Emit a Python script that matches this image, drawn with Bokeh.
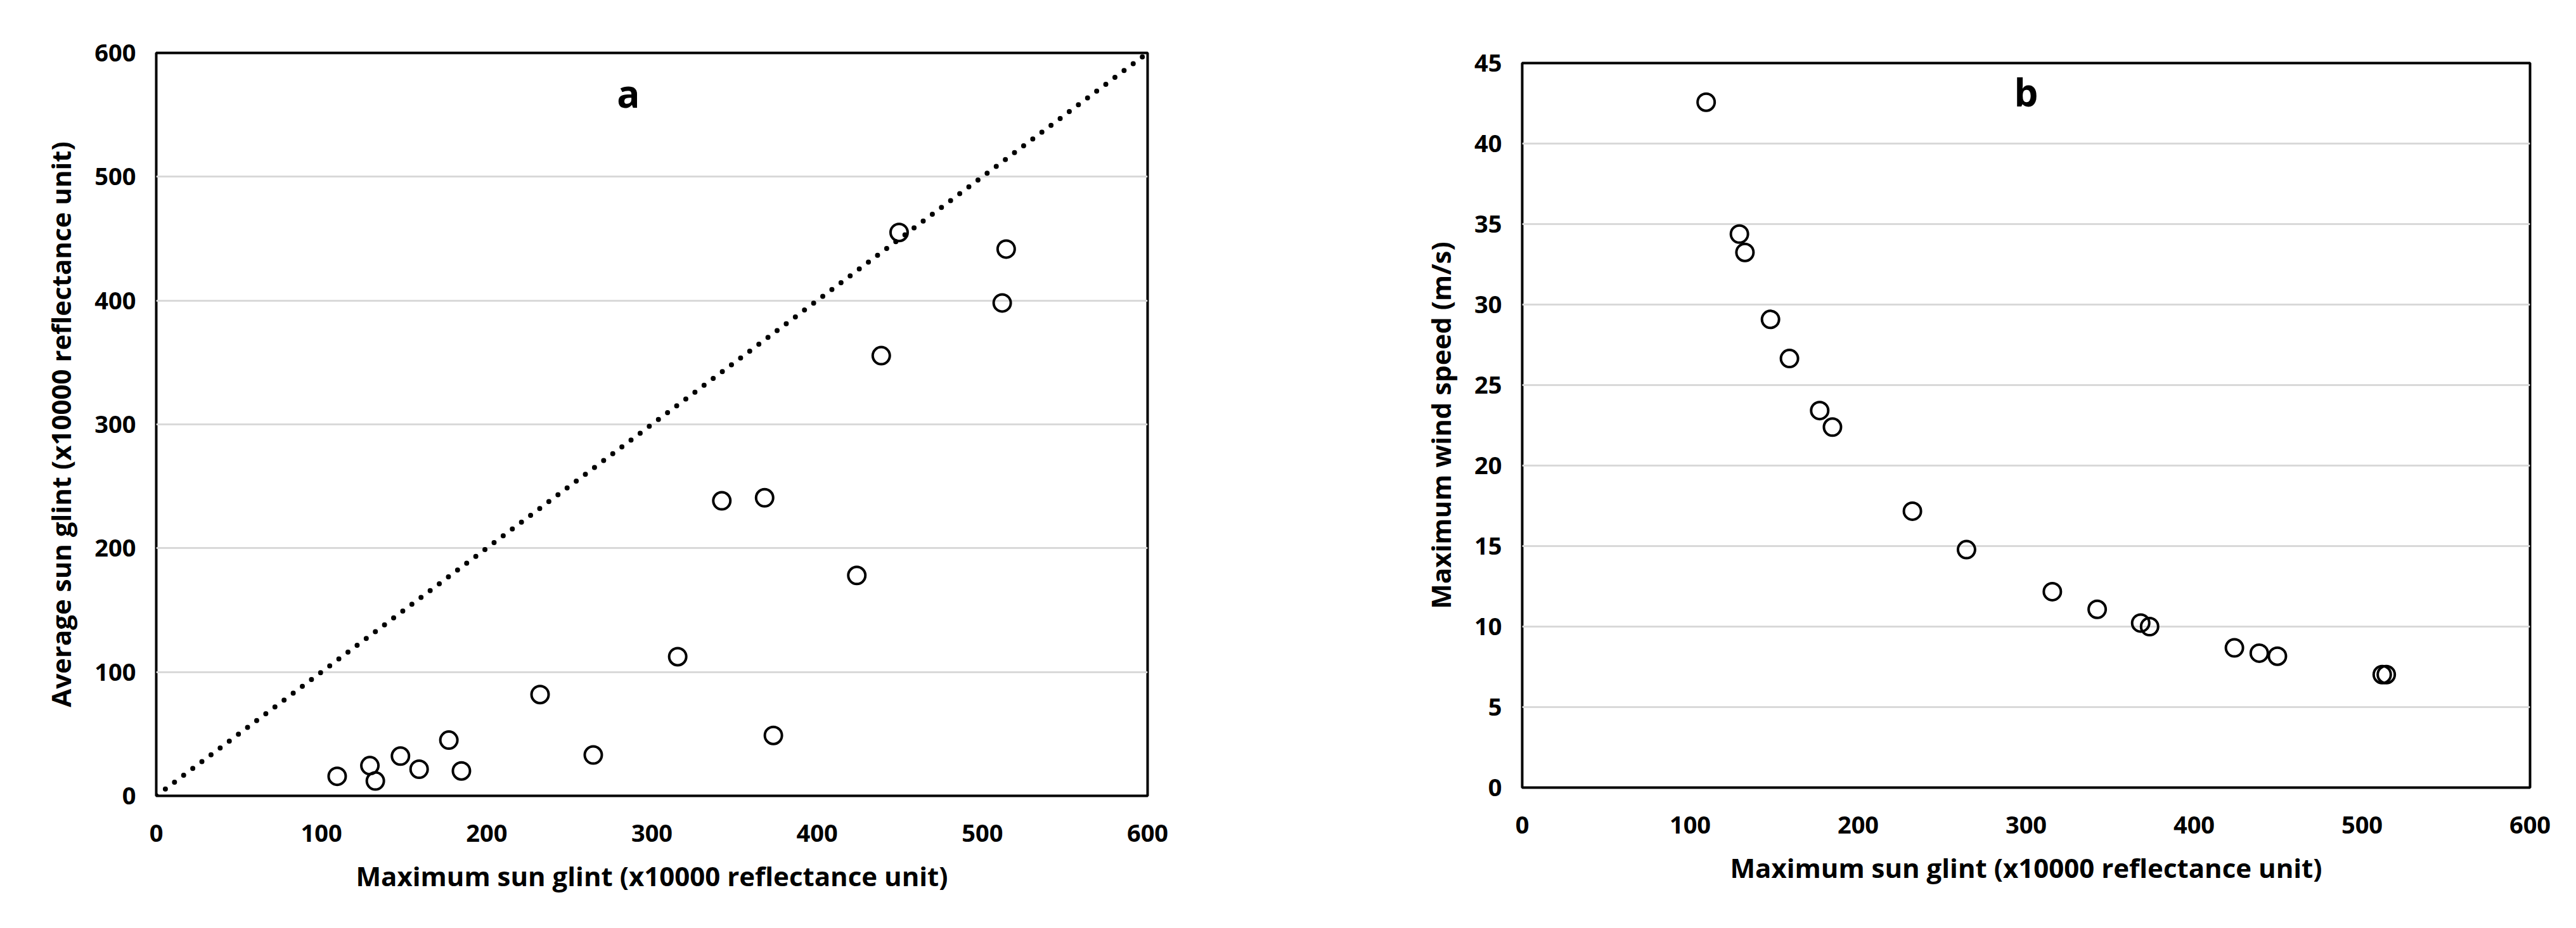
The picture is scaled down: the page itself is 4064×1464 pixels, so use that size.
from bokeh.plotting import figure
from bokeh.layouts import row, column
from bokeh.models import Range1d, SingleIntervalTicker, Label
from bokeh.embed import file_html
from bokeh.resources import INLINE

# ---- data ----
max_glint = [109.5, 129.3, 132.6, 147.8, 159.1, 177.1, 184.7, 232.3, 264.5,
             315.6, 342.3, 368.2, 373.5, 424.0, 438.8, 449.6, 512.0, 514.4]
avg_glint = [15.8, 24.4, 12.0, 32.1, 21.5, 45.0, 20.1, 81.8, 33.0,
             112.4, 238.3, 240.7, 48.8, 178.0, 355.5, 455.0, 398.1, 441.6]
max_wind = [42.57, 34.38, 33.24, 29.08, 26.65, 23.42, 22.39, 17.17, 14.78,
            12.17, 11.07, 10.22, 10.0, 8.68, 8.35, 8.16, 7.02, 7.02]
line_x = [0, 600]
line_y = [0, 600]

x_label = "Maximum sun glint (x10000 reflectance unit)"
ya_label = "Average sun glint (x10000 reflectance unit)"
yb_label = "Maximum wind speed (m/s)"

FONT = "Open Sans"
TICK_SIZE = "38px"
TITLE_SIZE = "42px"
PANEL_SIZE = "60px"


def style(p, xstep, ystep):
    p.outline_line_color = "black"
    p.outline_line_width = 4
    p.background_fill_color = "white"
    p.border_fill_color = "white"
    p.xgrid.visible = False
    p.ygrid.grid_line_color = "#d9d9d9"
    p.ygrid.grid_line_width = 3
    p.xaxis.ticker = SingleIntervalTicker(interval=xstep)
    p.yaxis.ticker = SingleIntervalTicker(interval=ystep)
    p.ygrid.ticker = SingleIntervalTicker(interval=ystep)
    for ax in (p.xaxis[0], p.yaxis[0]):
        ax.axis_line_color = None
        ax.major_tick_line_color = None
        ax.minor_tick_line_color = None
        ax.major_tick_in = 0
        ax.major_tick_out = 0
        ax.minor_tick_in = 0
        ax.minor_tick_out = 0
        ax.major_label_text_font = FONT
        ax.major_label_text_font_style = "bold"
        ax.major_label_text_font_size = TICK_SIZE
        ax.major_label_text_color = "black"
        ax.axis_label_text_font = FONT
        ax.axis_label_text_font_style = "bold"
        ax.axis_label_text_font_size = TITLE_SIZE
        ax.axis_label_text_color = "black"
    p.xaxis.major_label_standoff = 45
    p.yaxis.major_label_standoff = 32
    p.xaxis.axis_label_standoff = 22
    p.yaxis.axis_label_standoff = 22


# ---- panel a ----
pa = figure(frame_width=1564, frame_height=1172, output_backend="svg",
            toolbar_location=None,
            x_range=Range1d(0, 600), y_range=Range1d(0, 600),
            min_border_left=246, min_border_right=340, min_border_top=83,
            min_border_bottom=190)
style(pa, 100, 100)
pa.xaxis.axis_label = x_label
pa.yaxis.axis_label = ya_label
pa.line(line_x, line_y, line_color="black", line_width=8, line_dash="0 18",
        line_cap="round")
pa.scatter(max_glint, avg_glint, marker="circle", size=27, fill_color=None,
           line_color="black", line_width=4)
pa.add_layout(Label(x=285.8, y=567.3, text="a", text_font=FONT, text_font_style="bold",
                    text_font_size=PANEL_SIZE, text_align="center",
                    text_baseline="alphabetic", text_color="black"))

# ---- panel b ----
pb = figure(frame_width=1590, frame_height=1143, output_backend="svg",
            toolbar_location=None,
            x_range=Range1d(0, 600), y_range=Range1d(0, 45),
            min_border_left=251, min_border_right=60, min_border_top=99,
            min_border_bottom=200)
style(pb, 100, 5)
pb.xaxis.axis_label = x_label
pb.yaxis.axis_label = yb_label
pb.scatter(max_glint, max_wind, marker="circle", size=27, fill_color=None,
           line_color="black", line_width=4)
pb.add_layout(Label(x=300, y=43.2, text="b", text_font=FONT, text_font_style="bold",
                    text_font_size=PANEL_SIZE, text_align="center",
                    text_baseline="alphabetic", text_color="black"))

layout = row(column(pa), column(pb))
open("out.html", "w").write(file_html(layout, INLINE))
